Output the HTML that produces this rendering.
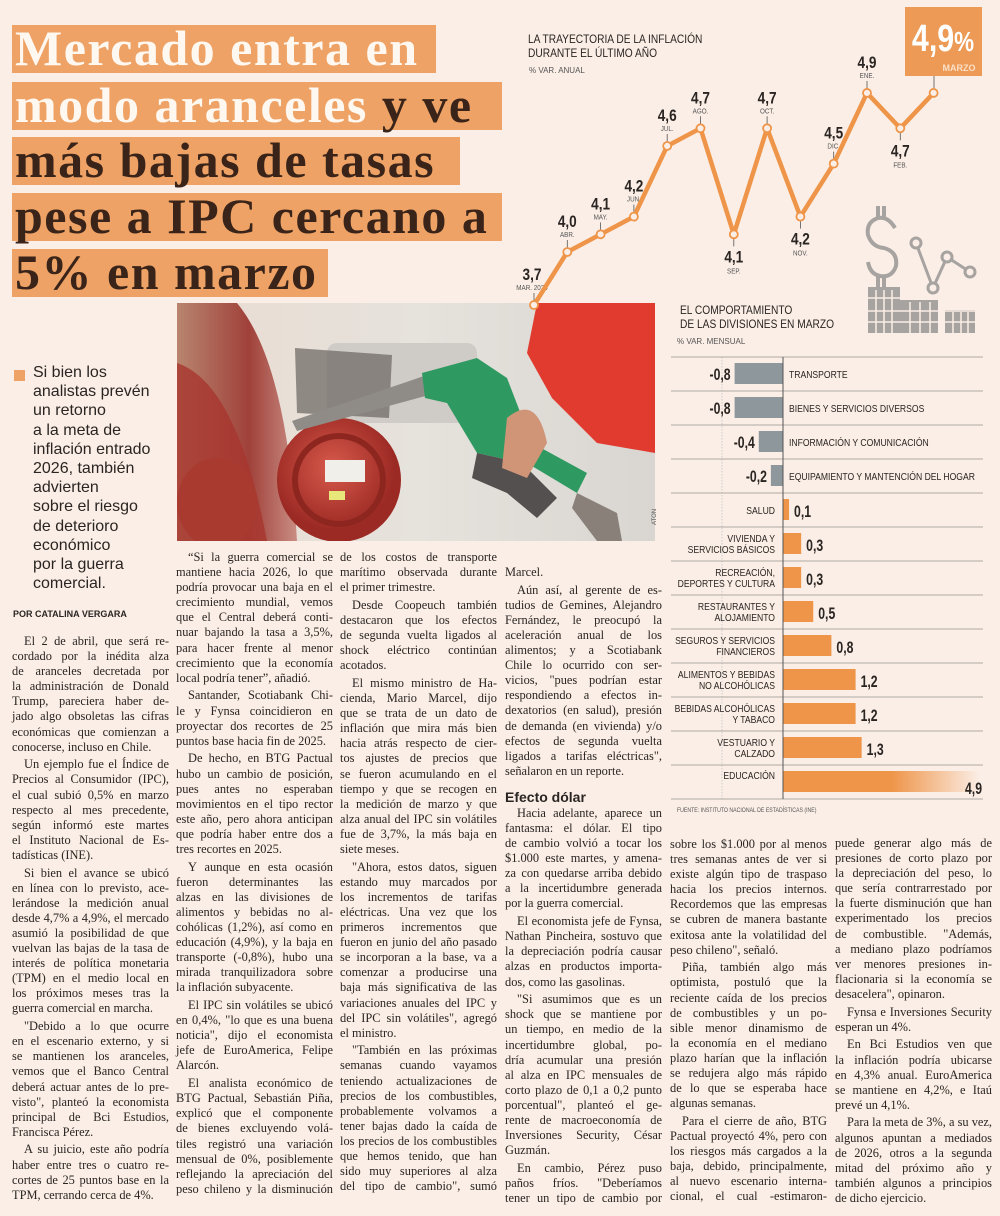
<!DOCTYPE html>
<html><head><meta charset="utf-8">
<style>
*{margin:0;padding:0;box-sizing:border-box}
body{width:1000px;height:1216px;background:#fbeee6;position:relative;overflow:hidden;font-family:"Liberation Serif",serif;color:#231f1c}
.abs{position:absolute}
.hl{position:absolute;left:12px;height:48px;background:#eea265;font-family:"Liberation Serif",serif;font-weight:bold;font-size:50px;letter-spacing:1.5px;line-height:46px;padding-left:3px;white-space:nowrap;color:#3a2419;overflow:visible}
.hl .w{color:#fff8f0}
.col{position:absolute;width:157px;font-size:12.4px;line-height:15.1px;color:#2a2522}
.col div{white-space:nowrap;text-align:justify;text-align-last:justify;overflow:visible}
.col div.e{text-align-last:left}
.col div.i{padding-left:12px}
.col .p{margin-top:2.6px}
.sub{position:absolute;left:33px;top:363px;width:140px;font-family:"Liberation Sans",sans-serif;font-size:16px;line-height:19.2px;color:#2a2522}
</style></head><body>

<div class="hl" style="top:25px;width:424px"><span class="w">Mercado entra en</span></div>
<div class="hl" style="top:82px;width:490px"><span class="w">modo aranceles</span> y ve</div>
<div class="hl" style="top:137px;width:448px">más bajas de tasas</div>
<div class="hl" style="top:193px;width:490px">pese a IPC cercano a</div>
<div class="hl" style="top:249px;width:316px">5% en marzo</div>

<!-- photo -->
<svg class="abs" style="left:177px;top:303px" width="478" height="238" viewBox="0 0 478 238">
<defs>
<linearGradient id="bg" x1="0" x2="1"><stop offset="0" stop-color="#e9dcd2"/><stop offset="0.5" stop-color="#e6e2dc"/><stop offset="1" stop-color="#d9d6d2"/></linearGradient>
<radialGradient id="cap" cx="0.45" cy="0.4"><stop offset="0" stop-color="#d85a4c"/><stop offset="1" stop-color="#9c2a24"/></radialGradient>
<linearGradient id="car" x1="0" x2="1"><stop offset="0" stop-color="#b8856f"/><stop offset="0.6" stop-color="#a0413a"/><stop offset="1" stop-color="#c98d83"/></linearGradient>
</defs>
<rect width="478" height="238" fill="url(#bg)"/>
<rect x="150" y="40" width="150" height="80" rx="10" fill="#cfcbc6"/>
<path d="M118 45 L215 52 L212 115 L120 110 Z" fill="#6a6460" opacity="0.7"/>
<path d="M0 0 L60 0 Q110 60 120 238 L0 238 Z" fill="url(#car)"/>
<path d="M0 60 Q60 80 90 238 L0 238 Z" fill="#a8362e" opacity="0.8"/>
<ellipse cx="40" cy="200" rx="40" ry="45" fill="#a93a30"/>
<circle cx="162" cy="177" r="62" fill="url(#cap)"/>
<circle cx="162" cy="177" r="44" fill="none" stroke="#8e2620" stroke-width="6"/>
<rect x="148" y="157" width="40" height="22" fill="#f1efea"/>
<rect x="152" y="188" width="16" height="9" fill="#e7e77a"/>
<path d="M115 118 L250 72 L252 92 L120 128 Z" fill="#8f8c88"/>
<path d="M245 70 L300 55 L330 75 L355 140 L345 160 L300 150 L270 100 L248 95 Z" fill="#2e9a61"/>
<path d="M300 150 L345 160 L380 195 L360 215 L330 190 L295 175 Z" fill="#555050"/>
<path d="M355 140 L410 170 L400 190 L350 160 Z" fill="#2e9a61"/>
<path d="M330 115 Q360 90 370 140 L350 175 L325 165 Z" fill="#d09577"/>
<path d="M360 0 L478 0 L478 150 L420 140 L375 95 L350 50 Z" fill="#e13b30"/>
<path d="M400 190 L440 210 L445 238 L420 238 L395 205 Z" fill="#8a807a"/>
</svg>
<div class="abs" style="left:652px;top:525px;font-family:'Liberation Sans',sans-serif;font-size:6px;color:#555;transform:rotate(-90deg);transform-origin:left top">ATON</div>

<!-- subhead -->
<div class="abs" style="left:14px;top:370px;width:11px;height:11px;background:#eea265"></div>
<div class="sub">Si bien los<br>analistas prevén<br>un retorno<br>a la meta de<br>inflación entrado<br>2026, también<br>advierten<br>sobre el riesgo<br>de deterioro<br>económico<br>por la guerra<br>comercial.</div>
<div class="abs" style="left:13px;top:609px;font-family:'Liberation Sans',sans-serif;font-weight:bold;font-size:9px;color:#2a2522">POR CATALINA VERGARA</div>

<!-- column 1 -->
<div class="col" style="left:12px;top:634px">
<div class="i">El 2 de abril, que será re-</div><div>cordado por la inédita alza</div><div>de aranceles decretada por</div><div>la administración de Donald</div><div>Trump, pareciera haber de-</div><div>jado algo obsoletas las cifras</div><div>económicas que comienzan a</div><div class="e">conocerse, incluso en Chile.</div>
<div class="i p">Un ejemplo fue el Índice de</div><div>Precios al Consumidor (IPC),</div><div>el cual subió 0,5% en marzo</div><div>respecto al mes precedente,</div><div>según informó este martes</div><div>el Instituto Nacional de Es-</div><div class="e">tadísticas (INE).</div>
<div class="i p">Si bien el avance se ubicó</div><div>en línea con lo previsto, ace-</div><div>lerándose la medición anual</div><div>desde 4,7% a 4,9%, el mercado</div><div>asumió la posibilidad de que</div><div>vuelvan las bajas de la tasa de</div><div>interés de política monetaria</div><div>(TPM) en el medio local en</div><div>los próximos meses tras la</div><div class="e">guerra comercial en marcha.</div>
<div class="i p">"Debido a lo que ocurre</div><div>en el escenario externo, y si</div><div>se mantienen los aranceles,</div><div>vemos que el Banco Central</div><div>deberá actuar antes de lo pre-</div><div>visto", planteó la economista</div><div>principal de Bci Estudios,</div><div class="e">Francisca Pérez.</div>
<div class="i p">A su juicio, este año podría</div><div>haber entre tres o cuatro re-</div><div>cortes de 25 puntos base en la</div><div class="e">TPM, cerrando cerca de 4%.</div>
</div>

<!-- column 2 -->
<div class="col" style="left:176px;top:550px">
<div class="i">“Si la guerra comercial se</div><div>mantiene hacia 2026, lo que</div><div>podría provocar una baja en el</div><div>crecimiento mundial, vemos</div><div>que el Central deberá conti-</div><div>nuar bajando la tasa a 3,5%,</div><div>para hacer frente al menor</div><div>crecimiento que la economía</div><div class="e">local podría tener”, añadió.</div>
<div class="i p">Santander, Scotiabank Chi-</div><div>le y Fynsa coincidieron en</div><div>proyectar dos recortes de 25</div><div class="e">puntos base hacia fin de 2025.</div>
<div class="i p">De hecho, en BTG Pactual</div><div>hubo un cambio de posición,</div><div>pues antes no esperaban</div><div>movimientos en el tipo rector</div><div>este año, pero ahora anticipan</div><div>que podría haber entre dos a</div><div class="e">tres recortes en 2025.</div>
<div class="i p">Y aunque en esta ocasión</div><div>fueron determinantes las</div><div>alzas en las divisiones de</div><div>alimentos y bebidas no al-</div><div>cohólicas (1,2%), así como en</div><div>educación (4,9%), y la baja en</div><div>transporte (-0,8%), hubo una</div><div>mirada tranquilizadora sobre</div><div class="e">la inflación subyacente.</div>
<div class="i p">El IPC sin volátiles se ubicó</div><div>en 0,4%, "lo que es una buena</div><div>noticia", dijo el economista</div><div>jefe de EuroAmerica, Felipe</div><div class="e">Alarcón.</div>
<div class="i p">El analista económico de</div><div>BTG Pactual, Sebastián Piña,</div><div>explicó que el componente</div><div>de bienes excluyendo volá-</div><div>tiles registró una variación</div><div>mensual de 0%, posiblemente</div><div>reflejando la apreciación del</div><div>peso chileno y la disminución</div>
</div>

<!-- column 3 -->
<div class="col" style="left:340px;top:550px">
<div>de los costos de transporte</div><div>marítimo observada durante</div><div class="e">el primer trimestre.</div>
<div class="i p">Desde Coopeuch también</div><div>destacaron que los efectos</div><div>de segunda vuelta ligados al</div><div>shock eléctrico continúan</div><div class="e">acotados.</div>
<div class="i p">El mismo ministro de Ha-</div><div>cienda, Mario Marcel, dijo</div><div>que se trata de un dato de</div><div>inflación que mira más bien</div><div>hacia atrás respecto de cier-</div><div>tos ajustes de precios que</div><div>se fueron acumulando en el</div><div>tiempo y que se recogen en</div><div>la medición de marzo y que</div><div>alza anual del IPC sin volátiles</div><div>fue de 3,7%, la más baja en</div><div class="e">siete meses.</div>
<div class="i p">"Ahora, estos datos, siguen</div><div>estando muy marcados por</div><div>los incrementos de tarifas</div><div>eléctricas. Una vez que los</div><div>primeros incrementos que</div><div>fueron en junio del año pasado</div><div>se incorporan a la base, va a</div><div>comenzar a producirse una</div><div>baja más significativa de las</div><div>variaciones anuales del IPC y</div><div>del IPC sin volátiles", agregó</div><div class="e">el ministro.</div>
<div class="i p">"También en las próximas</div><div>semanas cuando vayamos</div><div>teniendo actualizaciones de</div><div>precios de los combustibles,</div><div>probablemente volvamos a</div><div>tener bajas dado la caída de</div><div>los precios de los combustibles</div><div>que hemos tenido, que han</div><div>sido muy superiores al alza</div><div>del tipo de cambio", sumó</div>
</div>

<!-- column 4 -->
<div class="col" style="left:505px;top:565px">
<div class="e">Marcel.</div>
<div class="i p">Aún así, al gerente de es-</div><div>tudios de Gemines, Alejandro</div><div>Fernández, le preocupó la</div><div>aceleración anual de los</div><div>alimentos; y a Scotiabank</div><div>Chile lo ocurrido con ser-</div><div>vicios, "pues podrían estar</div><div>respondiendo a efectos in-</div><div>dexatorios (en salud), presión</div><div>de demanda (en vivienda) y/o</div><div>efectos de segunda vuelta</div><div>ligados a tarifas eléctricas",</div><div class="e">señalaron en un reporte.</div>
<div class="e" style="font-family:'Liberation Sans',sans-serif;font-weight:bold;font-size:14px;line-height:18px;margin-top:9px">Efecto dólar</div>
<div class="i">Hacia adelante, aparece un</div><div>fantasma: el dólar. El tipo</div><div>de cambio volvió a tocar los</div><div>$1.000 este martes, y amena-</div><div>za con quedarse arriba debido</div><div>a la incertidumbre generada</div><div class="e">por la guerra comercial.</div>
<div class="i p">El economista jefe de Fynsa,</div><div>Nathan Pincheira, sostuvo que</div><div>la depreciación podría causar</div><div>alzas en productos importa-</div><div class="e">dos, como las gasolinas.</div>
<div class="i p">"Si asumimos que es un</div><div>shock que se mantiene por</div><div>un tiempo, en medio de la</div><div>incertidumbre global, po-</div><div>dría acumular una presión</div><div>al alza en IPC mensuales de</div><div>corto plazo de 0,1 a 0,2 punto</div><div>porcentual", planteó el ge-</div><div>rente de macroeconomía de</div><div>Inversiones Security, César</div><div class="e">Guzmán.</div>
<div class="i p">En cambio, Pérez puso</div><div>paños fríos. "Deberíamos</div><div>tener un tipo de cambio por</div>
</div>

<!-- column 5 -->
<div class="col" style="left:670px;top:837px">
<div>sobre los $1.000 por al menos</div><div>tres semanas antes de ver si</div><div>existe algún tipo de traspaso</div><div>hacia los precios internos.</div><div>Recordemos que las empresas</div><div>se cubren de manera bastante</div><div>exitosa ante la volatilidad del</div><div class="e">peso chileno", señaló.</div>
<div class="i p">Piña, también algo más</div><div>optimista, postuló que la</div><div>reciente caída de los precios</div><div>de combustibles y un po-</div><div>sible menor dinamismo de</div><div>la economía en el mediano</div><div>plazo harían que la inflación</div><div>se redujera algo más rápido</div><div>de lo que se esperaba hace</div><div class="e">algunas semanas.</div>
<div class="i p">Para el cierre de año, BTG</div><div>Pactual proyectó 4%, pero con</div><div>los riesgos más cargados a la</div><div>baja, debido, principalmente,</div><div>al nuevo escenario interna-</div><div>cional, el cual -estimaron-</div>
</div>

<!-- column 6 -->
<div class="col" style="left:835px;top:836px">
<div>puede generar algo más de</div><div>presiones de corto plazo por</div><div>la depreciación del peso, lo</div><div>que sería contrarrestado por</div><div>la fuerte disminución que han</div><div>experimentado los precios</div><div>de combustible. "Además,</div><div>a mediano plazo podríamos</div><div>ver menores presiones in-</div><div>flacionaria si la economía se</div><div class="e">desacelera", opinaron.</div>
<div class="i p">Fynsa e Inversiones Security</div><div class="e">esperan un 4%.</div>
<div class="i p">En Bci Estudios ven que</div><div>la inflación podría ubicarse</div><div>en 4,3% anual. EuroAmerica</div><div>se mantiene en 4,2%, e Itaú</div><div class="e">prevé un 4,1%.</div>
<div class="i p">Para la meta de 3%, a su vez,</div><div>algunos apuntan a mediados</div><div>de 2026, otros a la segunda</div><div>mitad del próximo año y</div><div>también algunos a principios</div><div class="e">de dicho ejercicio.</div>
</div>

<!-- charts -->
<svg class="abs" id="charts" style="left:0;top:0" width="1000" height="830">
  <g id="icon" fill="none" stroke="#a7a3a0" stroke-width="4">
    <path d="M895 228 Q888 216 878 218 Q866 222 868 235 Q872 247 884 248 Q898 252 896 266 Q892 278 880 276 Q870 274 868 262"/>
    <line x1="878" y1="206" x2="878" y2="218"/><line x1="884" y1="206" x2="884" y2="218"/>
    <line x1="878" y1="276" x2="878" y2="288"/><line x1="884" y1="276" x2="884" y2="288"/>
    <polyline points="916,243 933,288 947,257 970,272" stroke-width="3"/>
    <circle cx="916" cy="243" r="5" fill="#fbeee6" stroke-width="3"/><circle cx="933" cy="288" r="5" fill="#fbeee6" stroke-width="3"/>
    <circle cx="947" cy="257" r="5" fill="#fbeee6" stroke-width="3"/><circle cx="970" cy="272" r="5" fill="#fbeee6" stroke-width="3"/>
  </g>
  <g fill="#a7a3a0">
    <rect x="868" y="287" width="32" height="46"/><rect x="900" y="300" width="38" height="33"/><rect x="945" y="310" width="30" height="23"/>
  </g>
  <g stroke="#fbeee6" stroke-width="1.5">
    <line x1="868" y1="298" x2="938" y2="298"/><line x1="868" y1="311" x2="975" y2="311"/><line x1="868" y1="322" x2="975" y2="322"/>
    <line x1="876" y1="290" x2="876" y2="333"/><line x1="884" y1="290" x2="884" y2="333"/><line x1="892" y1="290" x2="892" y2="333"/>
    <line x1="910" y1="302" x2="910" y2="333"/><line x1="920" y1="302" x2="920" y2="333"/><line x1="930" y1="302" x2="930" y2="333"/>
    <line x1="953" y1="312" x2="953" y2="333"/><line x1="961" y1="312" x2="961" y2="333"/><line x1="968" y1="312" x2="968" y2="333"/>
  </g>
  <text transform="translate(528 43) scale(0.85 1)" font-family="Liberation Sans, sans-serif" font-size="12" fill="#2a2522">LA TRAYECTORIA DE LA INFLACIÓN</text>
  <text transform="translate(528 57) scale(0.85 1)" font-family="Liberation Sans, sans-serif" font-size="12" fill="#2a2522">DURANTE EL ÚLTIMO AÑO</text>
  <text x="529" y="73" font-family="Liberation Sans, sans-serif" font-size="8" fill="#555">% VAR. ANUAL</text>
  <rect x="905" y="7" width="77" height="69" fill="#ec9a55"/>
  <text transform="translate(943 51) scale(0.8 1)" text-anchor="middle" font-family="Liberation Sans, sans-serif" font-weight="bold" font-size="38" fill="#fff">4,9<tspan font-size="28">%</tspan></text>
  <text x="959" y="71" text-anchor="middle" font-family="Liberation Sans, sans-serif" font-weight="bold" font-size="9" fill="#fbe0c8">MARZO</text>
  <line x1="934" y1="76" x2="934" y2="88" stroke="#555" stroke-width="0.8"/>
  <g id="line-g"></g>

  <text transform="translate(680 314) scale(0.85 1)" font-family="Liberation Sans, sans-serif" font-size="12" fill="#2a2522">EL COMPORTAMIENTO</text>
  <text transform="translate(680 328) scale(0.85 1)" font-family="Liberation Sans, sans-serif" font-size="12" fill="#2a2522">DE LAS DIVISIONES EN MARZO</text>
  <text x="677" y="344" font-family="Liberation Sans, sans-serif" font-size="8" fill="#555">% VAR. MENSUAL</text>
  <defs><linearGradient id="fade" x1="0" x2="1"><stop offset="0" stop-color="#ee9549"/><stop offset="0.55" stop-color="#ee9549"/><stop offset="1" stop-color="#ee9549" stop-opacity="0"/></linearGradient></defs>
  <line x1="722" y1="357" x2="722" y2="800" stroke="#ccc" stroke-dasharray="1.5,1.5"/>
  <g id="bar-g"></g>
  <text transform="translate(677 812) scale(0.8 1)" font-family="Liberation Sans, sans-serif" font-size="6.5" fill="#555">FUENTE: INSTITUTO NACIONAL DE ESTADÍSTICAS (INE)</text>
</svg>

<script>
const months = ["MAR. 2024","ABR.","MAY.","JUN.","JUL.","AGO.","SEP.","OCT.","NOV.","DIC.","ENE.","FEB.","MARZO"];
const inflation = [3.7,4.0,4.1,4.2,4.6,4.7,4.1,4.7,4.2,4.5,4.9,4.7,4.9];
const labelBelow = [false,false,false,false,false,false,true,false,true,false,false,true,false];

const divisions = ["TRANSPORTE","BIENES Y SERVICIOS DIVERSOS","INFORMACIÓN Y COMUNICACIÓN","EQUIPAMIENTO Y MANTENCIÓN DEL HOGAR","SALUD","VIVIENDA Y|SERVICIOS BÁSICOS","RECREACIÓN,|DEPORTES Y CULTURA","RESTAURANTES Y|ALOJAMIENTO","SEGUROS Y SERVICIOS|FINANCIEROS","ALIMENTOS Y BEBIDAS|NO ALCOHÓLICAS","BEBIDAS ALCOHÓLICAS|Y TABACO","VESTUARIO Y|CALZADO","EDUCACIÓN"];
const monthly = [-0.8,-0.8,-0.4,-0.2,0.1,0.3,0.3,0.5,0.8,1.2,1.2,1.3,4.9];

const NS="http://www.w3.org/2000/svg";
function mk(tag,attrs,parent){const e=document.createElementNS(NS,tag);for(const k in attrs)e.setAttribute(k,attrs[k]);parent.appendChild(e);return e;}
function condense(el,x,y,s){el.setAttribute("transform","translate("+x+" "+y+") scale("+s+" 1)");}
const fmt=v=>v.toFixed(1).replace(".",",");

// line chart
const lx=i=>534+i*33.3;
const ly=v=>305-(v-3.7)*176.7;
const lg=document.getElementById("line-g");
inflation.forEach((v,i)=>{
  const x=lx(i),y=ly(v);
  if(i<inflation.length-1){
    const below=labelBelow[i];
    mk("line",{x1:x,x2:x,y1:below?y+2:y-2,y2:below?y+12:y-12,stroke:"#555","stroke-width":0.8},lg);
    const vy=below?y+28:y-25;
    const xx=x-(i==0?2:0);
    const val=mk("text",{"text-anchor":"middle","font-family":"Liberation Sans, sans-serif","font-weight":"bold","font-size":17,fill:"#2a2522"},lg);
    condense(val,xx,vy,0.8);
    val.textContent=fmt(v);
    
    
    const ml=mk("text",{"text-anchor":"middle","font-family":"Liberation Sans, sans-serif","font-size":7,fill:"#555"},lg);
    condense(ml,xx,below?vy+11:vy+10,0.9);
    ml.textContent=months[i];
    
    
  }
});
const pl=mk("polyline",{points:inflation.map((v,i)=>lx(i)+","+ly(v)).join(" "),fill:"none",stroke:"#ee9549","stroke-width":4.5,"stroke-linejoin":"round"},lg);


inflation.forEach((v,i)=>{
  const c=mk("circle",{cx:lx(i),cy:ly(v),r:4,fill:"#fbeee6",stroke:"#ee9549","stroke-width":1.8},lg);
  
  
});

// bar chart
const x0=783, unit=60.5, top0=357, rowH=34;
const bx=v=>x0+v*unit;
const bg=document.getElementById("bar-g");
divisions.forEach((d,i)=>{
  const yt=top0+i*rowH, v=monthly[i];
  mk("line",{x1:671,x2:983,y1:yt,y2:yt,stroke:"#9a9490","stroke-width":0.8},bg);
  let x=Math.min(bx(0),bx(v)), w=Math.abs(bx(v)-bx(0));
  if(x+w>980) w=980-x;
  const r=mk("rect",{x:x,y:yt+6,width:w,height:21,fill:v<0?"#8e979b":(v>3?"url(#fade)":"#ee9549")},bg);
  
  
  const vt=mk("text",{"font-family":"Liberation Sans, sans-serif","font-weight":"bold","font-size":17,fill:"#2a2522"},bg);
  vt.textContent=fmt(v);
  
  
  const lines=d.split("|");
  const lt=mk("text",{"font-family":"Liberation Sans, sans-serif","font-size":10.5,fill:"#2a2522"},bg);
  
  
  if(v<0){
    vt.setAttribute("text-anchor","end");condense(vt,bx(v)-4,yt+23,0.72);
    condense(lt,x0+6,yt+21,0.82);lt.textContent=d;
  } else {
    if(v>3){vt.setAttribute("text-anchor","end");condense(vt,982,yt+29,0.72);}
    else {condense(vt,bx(v)+5,yt+24,0.72);}
    lt.setAttribute("text-anchor","end");
    if(lines.length==1){condense(lt,x0-8,yt+(v>3?14:21),0.82);lt.textContent=d;}
    else {condense(lt,x0-8,yt+15,0.82);lines.forEach((s,j)=>{const ts=mk("tspan",{x:0,y:j*11},lt);ts.textContent=s;});}
  }
});
mk("line",{x1:671,x2:983,y1:top0+divisions.length*rowH,y2:top0+divisions.length*rowH,stroke:"#9a9490","stroke-width":0.8},bg);
mk("line",{x1:x0,x2:x0,y1:top0,y2:top0+divisions.length*rowH,stroke:"#555","stroke-width":1},bg);
</script>
</body></html>
